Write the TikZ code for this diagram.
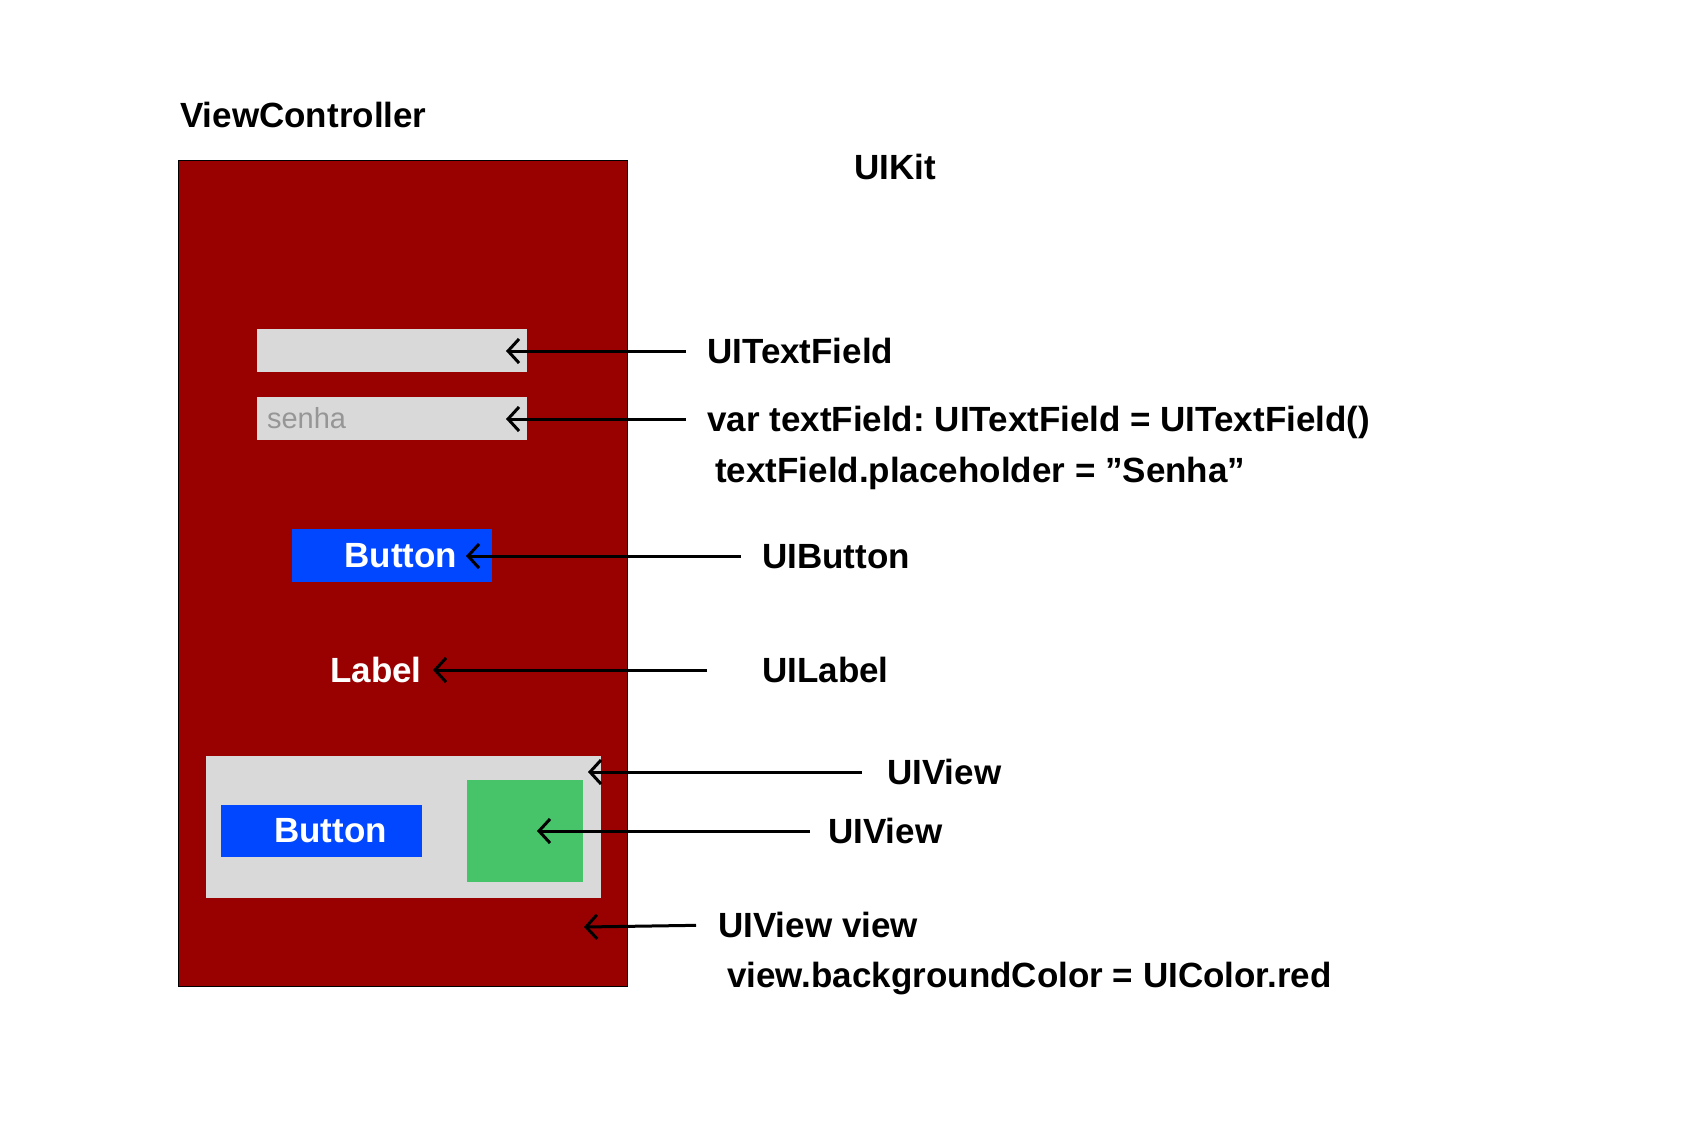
\documentclass[tikz,border=0pt]{standalone}
\usepackage{fontspec}
\setmainfont{Liberation Sans}
\frenchspacing
\usetikzlibrary{positioning, arrows.meta}
\definecolor{vcred}{RGB}{153,0,0}
\definecolor{fieldgray}{RGB}{217,217,217}
\definecolor{btnblue}{RGB}{0,71,255}
\definecolor{viewgreen}{RGB}{71,196,106}
\definecolor{hintgray}{RGB}{150,150,150}
\tikzstyle{big} = [font=\fontsize{35}{42}\selectfont\bfseries]
\tikzstyle{lbl} = [big, anchor=west, inner sep=0pt, text height=25pt, text depth=0pt]
\tikzstyle{field} = [rectangle, inner sep=0pt, fill=fieldgray]
\tikzstyle{btn} = [rectangle, inner sep=0pt, fill=btnblue, text=white, big]
\tikzstyle{hint} = [anchor=west, inner sep=0pt, text=hintgray, font=\fontsize{29}{34}\selectfont]
\tikzstyle{arrow} = [line width=3pt, -{Straight Barb[length=11pt, width=24pt, line width=3pt]}]

\begin{document}
\begin{tikzpicture}[x=1pt, y=-1pt]
\useasboundingbox [fill=white] (0,0) rectangle (1693,1143);

%Titles
\node (vc) [lbl] at (180,115) {ViewController};
\node (uikit) [lbl] at (854,167) {UIKit};

%Screen
\node (screen) [rectangle, draw=black, line width=1pt, fill=vcred, minimum width=449pt, minimum height=826pt] at (402.5,573) {};
\node (tf1) [field, minimum width=270pt, minimum height=43pt] at (392,350.5) {};
\node (tf2) [field, minimum width=270pt, minimum height=43pt] at (392,418.5) {};
\node (senha) [hint, right=10pt of tf2.west] {senha};
\node (btn1) [btn, minimum width=200pt, minimum height=53pt] at (392,555.5) {\hspace{18pt}Button};
\node (label) [big, text=white, inner sep=0pt] at (376,670) {Label};
%Subview
\node (subview) [field, minimum width=395pt, minimum height=142pt] at (403.5,827) {};
\node (btn2) [btn, minimum width=201pt, minimum height=52pt] at (321.5,831) {\hspace{18pt}Button};
\node (green) [rectangle, fill=viewgreen, minimum width=116pt, minimum height=102pt] at (525,831) {};

%Tips
\coordinate (tf1tip) at (506,351);
\coordinate (tf2tip) at (506,419);
\coordinate (btntip) at (466,556);
\coordinate (labeltip) at (433,670);
\coordinate (subtip) at (588,772);
\coordinate (greentip) at (537,831);
\coordinate (screentip) at (584,927);

%Labels
\node (UITF) [lbl] at (707,351) {UITextField};
\node (vartf) [lbl] at (707,419) {var textField: UITextField = UITextField()};
\node (placeholder) [lbl] at (715,470) {textField.placeholder = ”Senha”};
\node (UIB) [lbl] at (762,556) {UIButton};
\node (UIL) [lbl] at (762,670) {UILabel};
\node (UIV1) [lbl] at (887,772) {UIView};
\node (UIV2) [lbl] at (828,831) {UIView};
\node (UIVv) [lbl] at (718,925) {UIView\hspace{10pt}view};
\node (bgcolor) [lbl] at (727,975) {view.backgroundColor = UIColor.red};

%arrows
\draw [arrow, shorten <=21pt] (UITF.west) -- (tf1tip);
\draw [arrow, shorten <=21pt] (vartf.west) -- (tf2tip);
\draw [arrow, shorten <=21pt] (UIB.west) -- (btntip);
\draw [arrow, shorten <=55pt] (UIL.west) -- (labeltip);
\draw [arrow, shorten <=25pt] (UIV1.west) -- (subtip);
\draw [arrow, shorten <=18pt] (UIV2.west) -- (greentip);
\draw [arrow, shorten <=22pt] (UIVv.west) -- (screentip);

\end{tikzpicture}
\end{document}
